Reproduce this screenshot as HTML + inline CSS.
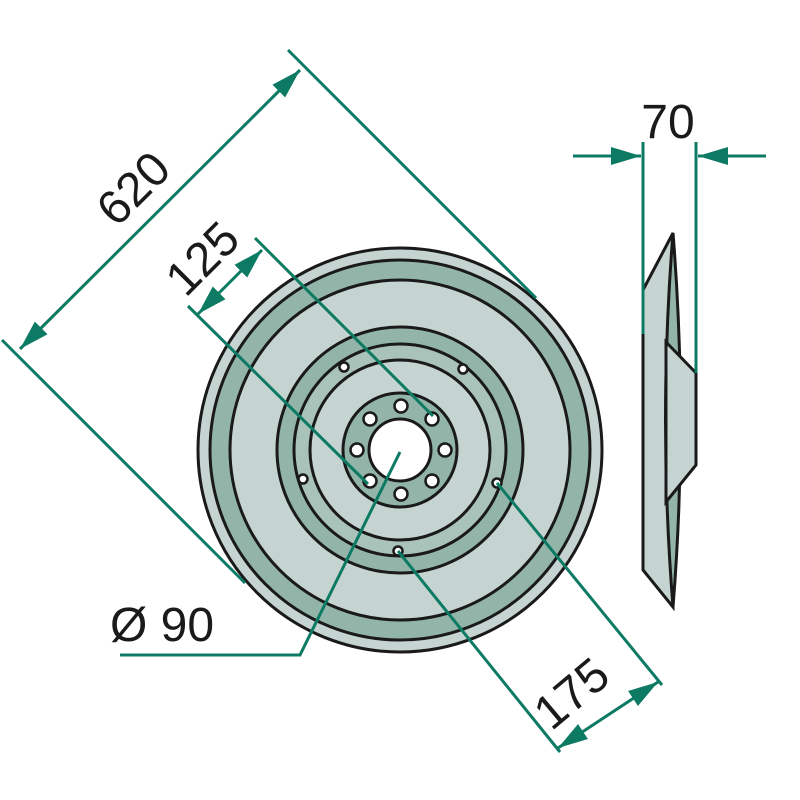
<!DOCTYPE html>
<html><head><meta charset="utf-8"><style>body{margin:0;background:#fff}svg{display:block}text{font-family:"Liberation Sans",sans-serif;fill:#1a1a1a}</style></head>
<body>
<svg width="800" height="800" viewBox="0 0 800 800" xmlns="http://www.w3.org/2000/svg">
<defs>
<marker id="a" markerWidth="32" markerHeight="20" refX="30" refY="10" orient="auto-start-reverse" markerUnits="userSpaceOnUse">
<path d="M0,1 L30,10 L0,19 Z" fill="#0d7a63"/></marker>
</defs>
<g stroke="#1a1a1a" stroke-width="3">
<circle cx="400" cy="450" r="202" fill="#c6d4d1"/>
<circle cx="400" cy="450" r="190" fill="#93b5a9"/>
<circle cx="400" cy="450" r="170" fill="#c6d4d1"/>
<circle cx="400" cy="450" r="123" fill="#93b5a9"/>
<circle cx="400" cy="450" r="106" fill="#a9c2ba"/>
<circle cx="400" cy="450" r="90" fill="#c6d4d1"/>
<circle cx="400" cy="450" r="57" fill="#93b5a9"/>
<circle cx="400" cy="450" r="31" fill="#fff"/>
<g fill="#fff" stroke-width="2.5">
<circle cx="344" cy="367" r="4.5"/><circle cx="463" cy="369" r="4.5"/><circle cx="303" cy="479" r="4.5"/><circle cx="497" cy="483" r="4.5"/><circle cx="398" cy="551" r="4.5"/>
<circle cx="401" cy="406" r="6.5"/><circle cx="432" cy="419" r="6.5"/><circle cx="445" cy="450" r="6.5"/><circle cx="432" cy="481" r="6.5"/><circle cx="401" cy="494" r="6.5"/><circle cx="370" cy="481" r="6.5"/><circle cx="357" cy="450" r="6.5"/><circle cx="370" cy="419" r="6.5"/>
</g>
<!-- side view -->
<path d="M673,233 L643,290 L643,570 L673,607 Z" fill="#c6d4d1"/>
<path d="M673,233 Q688,420 673,607 Q658,420 673,233 Z" fill="#93b5a9"/>
<path d="M666,342 L696,373 L696,465 L666,502 Z" fill="#c6d4d1"/>
</g>
<g stroke="#0d7a63" stroke-width="3" fill="none">
<line x1="643" y1="142" x2="643" y2="334"/>
<line x1="696" y1="142" x2="696" y2="373"/>
<line x1="573" y1="156" x2="641" y2="156" marker-end="url(#a)"/>
<line x1="766" y1="156" x2="698" y2="156" marker-end="url(#a)"/>
<line x1="288" y1="50" x2="536" y2="298"/>
<line x1="2" y1="340" x2="245" y2="583"/>
<line x1="20" y1="349" x2="300" y2="70" marker-start="url(#a)" marker-end="url(#a)"/>
<line x1="255" y1="238" x2="433" y2="416"/>
<line x1="188" y1="306" x2="368" y2="484"/>
<line x1="198" y1="314" x2="262" y2="250" marker-start="url(#a)" marker-end="url(#a)"/>
<line x1="398" y1="551" x2="560" y2="752"/>
<line x1="497" y1="483" x2="662" y2="685"/>
<line x1="558" y1="748" x2="658" y2="682" marker-start="url(#a)" marker-end="url(#a)"/>
<polyline points="400,452 300,655 120,655"/>
</g>
<text x="668" y="138" font-size="48" text-anchor="middle">70</text>
<text x="0" y="0" font-size="48" text-anchor="middle" transform="translate(145,200) rotate(-45)">620</text>
<text x="0" y="0" font-size="48" text-anchor="middle" transform="translate(214,270) rotate(-45)">125</text>
<text x="0" y="0" font-size="48" text-anchor="middle" transform="translate(582,706) rotate(-40)">175</text>
<text x="110" y="641" font-size="48">Ø 90</text>
</svg>
</body></html>
